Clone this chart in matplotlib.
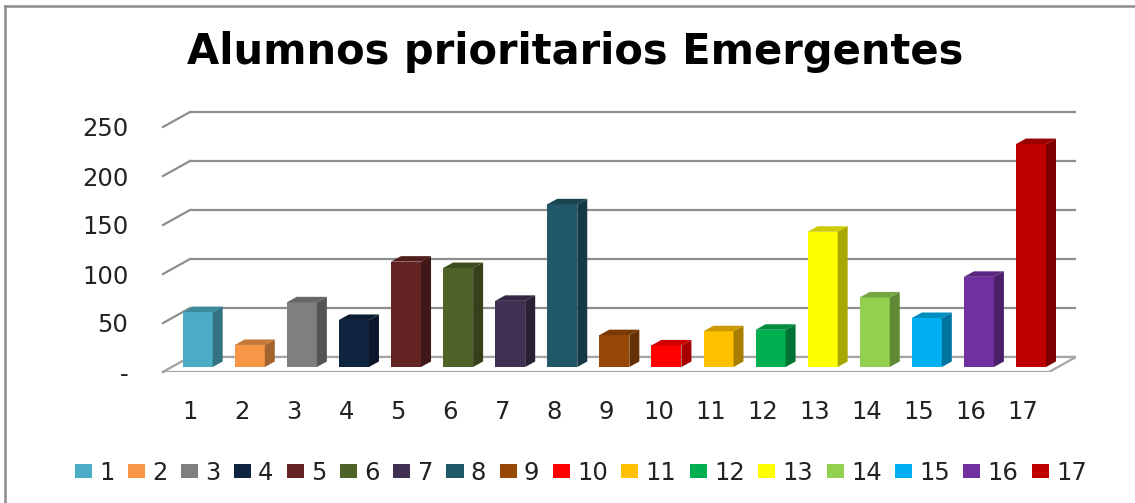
import matplotlib
matplotlib.use("Agg")
import matplotlib.pyplot as plt
from matplotlib.lines import Line2D
from matplotlib.patches import Patch, Polygon
from matplotlib.colors import to_rgb

title = "Alumnos prioritarios Emergentes"
categories = list(range(1, 18))
values = [56, 22.5, 66, 48, 107.5, 101, 67.5, 166, 32.5, 22, 36.5, 38, 138, 71, 50, 92, 227.5]
colors = ["#4bacc6", "#f79646", "#7f7f7f", "#0f243e", "#632423", "#4f6228", "#403152", "#215868",
          "#974806", "#ff0000", "#ffc000", "#00b050", "#ffff00", "#92d050", "#00b0f0", "#7030a0", "#c00000"]
y_ticks = [0, 50, 100, 150, 200, 250]
y_labels = ["-", "50", "100", "150", "200", "250"]

W, H = 1135, 503
fig = plt.figure(figsize=(W / 100, H / 100), dpi=100, facecolor="white")

# axes box runs from the front left corner of the floor to the back right one
left, right, top, bottom = 163, 1076, 100, 372
ax = fig.add_axes([left / W, 1 - bottom / H, (right - left) / W, (bottom - top) / H])
px_x = 52.08          # pixels per category
px_y = 0.98           # pixels per value unit
ax.set_xlim(1 + (left - 197.7) / px_x, 1 + (right - 197.7) / px_x)
ax.set_ylim((367 - bottom) / px_y, (367 - top) / px_y)

# depth of the 3d look, in data units
front_y = -5 / px_y
back_y = 10 / px_y
wall_dx = 27 / px_x
bar_w = 30 / px_x
bar_dx = 10 / px_x
bar_dy = 5.5 / px_y
grid_c = "#8e8e8e"
x0 = ax.get_xlim()[0]
x1 = ax.get_xlim()[1]

for v in y_ticks:
    ax.plot([x0 + wall_dx, x1], [v + back_y, v + back_y], color=grid_c, lw=1.6, zorder=1, solid_capstyle="butt")
    ax.plot([x0, x0 + wall_dx], [v + front_y, v + back_y], color=grid_c, lw=1.6, zorder=1, clip_on=False)

# floor
ax.add_patch(Polygon([(x0, front_y), (x1 - wall_dx, front_y), (x1, back_y), (x0 + wall_dx, back_y)],
                     closed=True, facecolor="white", edgecolor="#a6a6a6", lw=1.6, zorder=1.5))

def shade(c, k):
    r, g, b = to_rgb(c)
    return (r * k, g * k, b * k)

bars = ax.bar(categories, values, width=bar_w, color=colors, zorder=3, linewidth=0)
for cat, val, c in zip(categories, values, colors):
    xa = cat - bar_w / 2
    xb = cat + bar_w / 2
    ax.add_patch(Polygon([(xb, 0), (xb + bar_dx, bar_dy), (xb + bar_dx, val + bar_dy), (xb, val)],
                         closed=True, facecolor=shade(c, 0.66), edgecolor="none", zorder=3))
    ax.add_patch(Polygon([(xa, val), (xa + bar_dx, val + bar_dy), (xb + bar_dx, val + bar_dy), (xb, val)],
                         closed=True, facecolor=shade(c, 0.8), edgecolor="none", zorder=3))

for s in ax.spines.values():
    s.set_visible(False)
ax.patch.set_alpha(0)
ax.set_yticks([v + front_y for v in y_ticks])
ax.set_yticklabels(y_labels)
ax.set_xticks([c - 0.15 for c in categories])
ax.set_xticklabels([str(c) for c in categories])
ax.tick_params(axis="y", length=0, pad=25, labelsize=17.5, labelcolor="#222222")
ax.tick_params(axis="x", length=0, pad=20, labelsize=17.5, labelcolor="#222222")

fig.text(575 / W, 1 - 52 / H, title, ha="center", va="center", fontsize=30, fontweight="bold",
         color="black")

handles = [Patch(facecolor=c, edgecolor="none") for c in colors]
fig.legend(handles, [str(c) for c in categories], ncol=17, frameon=False,
           loc="center", bbox_to_anchor=(581 / W, 1 - 473 / H), fontsize=17.5, labelcolor="#222222",
           handlelength=0.7, handleheight=0.5, handletextpad=0.3, columnspacing=0.55, borderpad=0)

# outer frame of the picture, only top and left show
fig.add_artist(Line2D([5 / W, 5 / W], [0, 1 - 6 / H], color="#8c8c8c", lw=1.8))
fig.add_artist(Line2D([5 / W, 1], [1 - 6 / H, 1 - 6 / H], color="#8c8c8c", lw=1.8))

fig.savefig("out.png", dpi=100)
